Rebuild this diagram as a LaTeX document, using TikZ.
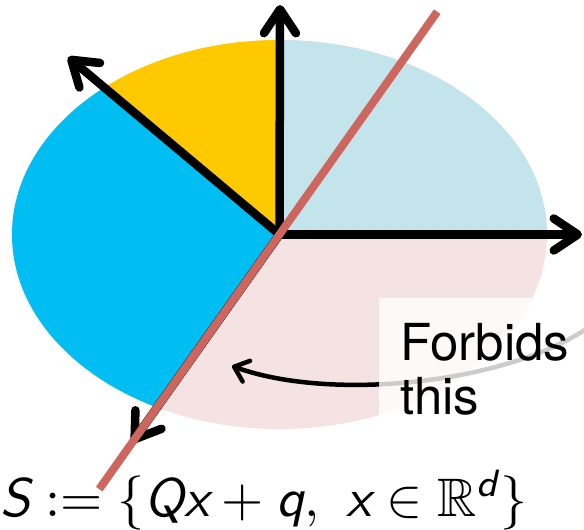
\documentclass[tikz,border=0pt]{standalone}
\usepackage{amsmath,amssymb}
\usepackage{graphicx}
\usepackage{fontspec}
\newfontfamily\labelfont{TeX Gyre Heros}
\usetikzlibrary{arrows.meta}
\definecolor{skyA}{RGB}{196,228,236}
\definecolor{blueA}{RGB}{0,190,242}
\definecolor{yellowA}{RGB}{255,201,0}
\definecolor{pinkA}{RGB}{245,226,226}
\definecolor{redA}{RGB}{204,102,94}
\newcommand{\sv}[1]{\text{\sffamily\slshape #1}}
\begin{document}
\begin{tikzpicture}[x=1pt,y=1pt,
  axisarrow/.style={line width=8.5pt, -{Straight Barb[length=24pt,width=32pt,round]}},
  redline/.style={line width=8pt, redA},
  curvearrow/.style={line width=4.5pt, -{Straight Barb[length=13pt,width=22pt,round]}},
  lbl/.style={font=\labelfont\fontsize{51}{52}\selectfont, inner sep=0pt},
  fullell/.style={x radius=267.5pt, y radius=194.5pt}]
\useasboundingbox (0,0) rectangle (584,530);
\coordinate (O) at (279.5,295.5);
% sectors
\fill[pinkA] (O) ellipse [fullell];
\begin{scope}
  \clip (O) -- +(0:500) -- +(45:500) -- +(90:500) -- cycle;
  \fill[skyA] (O) ellipse [fullell];
\end{scope}
\begin{scope}
  \clip (O) -- +(90:500) -- +(115:500) -- +(140:500) -- cycle;
  \fill[yellowA] (O) ellipse [fullell];
\end{scope}
\begin{scope}
  \clip (O) -- +(140:500) -- +(187:500) -- +(234.7:500) -- cycle;
  \fill[blueA] (O) ellipse [fullell];
\end{scope}
% axes
\coordinate (tU) at (280,525);
\coordinate (tR) at (582,295.5);
\path (O) +(140:276) coordinate (tL) +(234.7:255) coordinate (tD)
      +(54.7:273) coordinate (rA) +(234.7:312) coordinate (rB);
\draw[axisarrow] (O) -- (tU);
\draw[axisarrow] (O) -- (tR);
\draw[axisarrow] (O) -- (tL);
\draw[axisarrow] (O) -- (tD);
\draw[redline] (rA) -- (rB);
% curved arrow
\coordinate (cS) at (610,220);
\coordinate (cT) at (232,164);
\draw[curvearrow] (cS) .. controls (540,150) and (340,125) .. (cT);
% label box
\fill[white, fill opacity=0.8] (379,232) rectangle (600,80);
\node[lbl, anchor=base west] (forbids) at (400,169) {Forbids};
\node[lbl, anchor=base west] (this) at (400,115) {this};
% formula
\node[anchor=south west, inner sep=0pt] (setS) at (0,0)
  {\resizebox{527pt}{!}{$\sv{S} \mathrel{:=} \{\sv{Qx} + \sv{q},\ \sv{x} \in \mathbb{R}^{\sv{d}}\}$}};
\end{tikzpicture}
\end{document}
